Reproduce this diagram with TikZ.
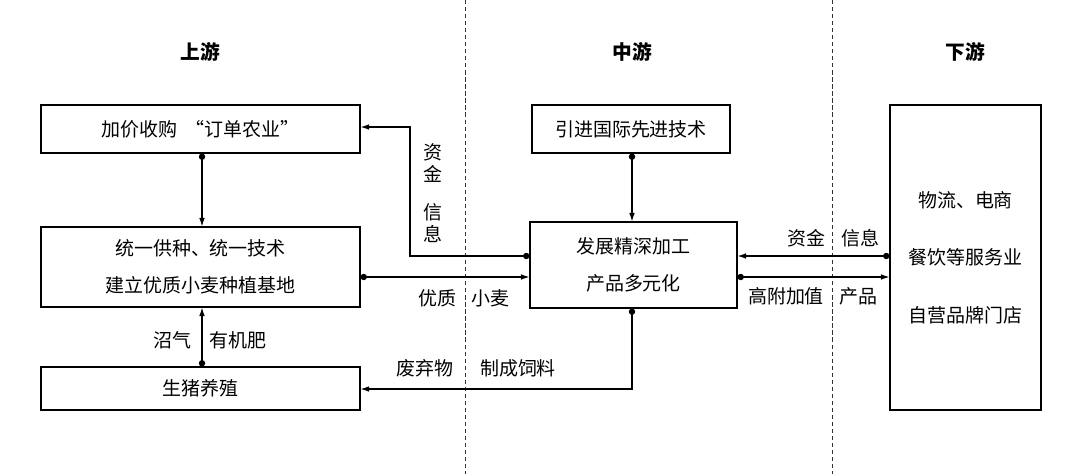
\documentclass[tikz,border=0pt]{standalone}
\usepackage{fontspec}
\setmainfont{Noto Sans CJK SC}
\usetikzlibrary{positioning,arrows.meta,calc}

\tikzset{
  box/.style={draw,thick,align=center,inner sep=2pt,font=\fontsize{13.5}{26}\selectfont},
  flow/.style={thick,{Circle[length=4.5pt]}-{Latex[length=6pt,width=4pt]}},
  lbl/.style={font=\fontsize{13.5}{16}\selectfont,inner sep=1pt},
  head/.style={font=\fontsize{14}{16}\selectfont\bfseries},
  divider/.style={densely dashed,thin,black!80}
}

\begin{document}
\begin{tikzpicture}[x=0.025cm,y=-0.025cm]
  \useasboundingbox (0,0) rectangle (1080,474);

  % dividers
  \draw[divider] (465,0) -- (465,474);
  \draw[divider] (832,0) -- (832,474);

  % headings
  \node[head] at (200,52) {上游};
  \node[head] at (632,52) {中游};
  \node[head] at (965,52) {下游};

  % upstream boxes
  \node[box,minimum width=7.975cm,minimum height=1.2cm] (order) at (200.5,129) {加价收购~~“订单农业”};
  \node[box,minimum width=7.975cm,minimum height=2cm] (base) at (200.5,267) {统一供种、统一技术\\建立优质小麦种植基地};
  \node[box,minimum width=7.975cm,minimum height=1.075cm] (pig) at (200.5,388.5) {生猪养殖};

  % midstream boxes
  \node[box,minimum width=4.95cm,minimum height=1.2cm] (tech) at (631,129) {引进国际先进技术};
  \node[box,minimum width=5.175cm,minimum height=2.15cm] (proc) at (633.5,265) {发展精深加工\\产品多元化};

  % downstream box
  \node[box,minimum width=3.775cm,minimum height=7.625cm,font=\fontsize{13.5}{41}\selectfont] (sales) at (965.5,257.5) {物流、电商\\餐饮等服务业\\自营品牌门店};

  % vertical links
  \draw[flow] (order.south -| 202,0) -- (base.north -| 202,0);
  \draw[flow] (pig.north -| 202,0) -- (base.south -| 202,0);
  \draw[flow] (tech.south -| 632,0) -- (proc.north -| 632,0);

  % horizontal links
  \coordinate (p1) at (410,256);
  \coordinate (p2) at (410,127);
  \draw[flow] (proc.west |- p1) -- (p1) -- (p2) -- (order.east |- p2);
  \draw[flow] (base.east |- 0,277) -- (proc.west |- 0,277);
  \coordinate (p3) at (632,389);
  \draw[flow] (proc.south -| p3) -- (p3) -- (pig.east |- p3);
  \draw[flow] (sales.west |- 0,256) -- (proc.east |- 0,256);
  \draw[flow] (proc.east |- 0,277) -- (sales.west |- 0,277);

  % labels
  \node[lbl,align=center] at (433,163) {资\\金};
  \node[lbl,align=center] at (433,223) {信\\息};
  \node[lbl] at (437,298) {优质};
  \node[lbl] at (490,298) {小麦};
  \node[lbl] at (172,340) {沼气};
  \node[lbl] at (238,340) {有机肥};
  \node[lbl] at (425,368) {废弃物};
  \node[lbl] at (518,368) {制成饲料};
  \node[lbl] at (806,238) {资金};
  \node[lbl] at (860,238) {信息};
  \node[lbl] at (786,296) {高附加值};
  \node[lbl] at (858,296) {产品};
\end{tikzpicture}
\end{document}
